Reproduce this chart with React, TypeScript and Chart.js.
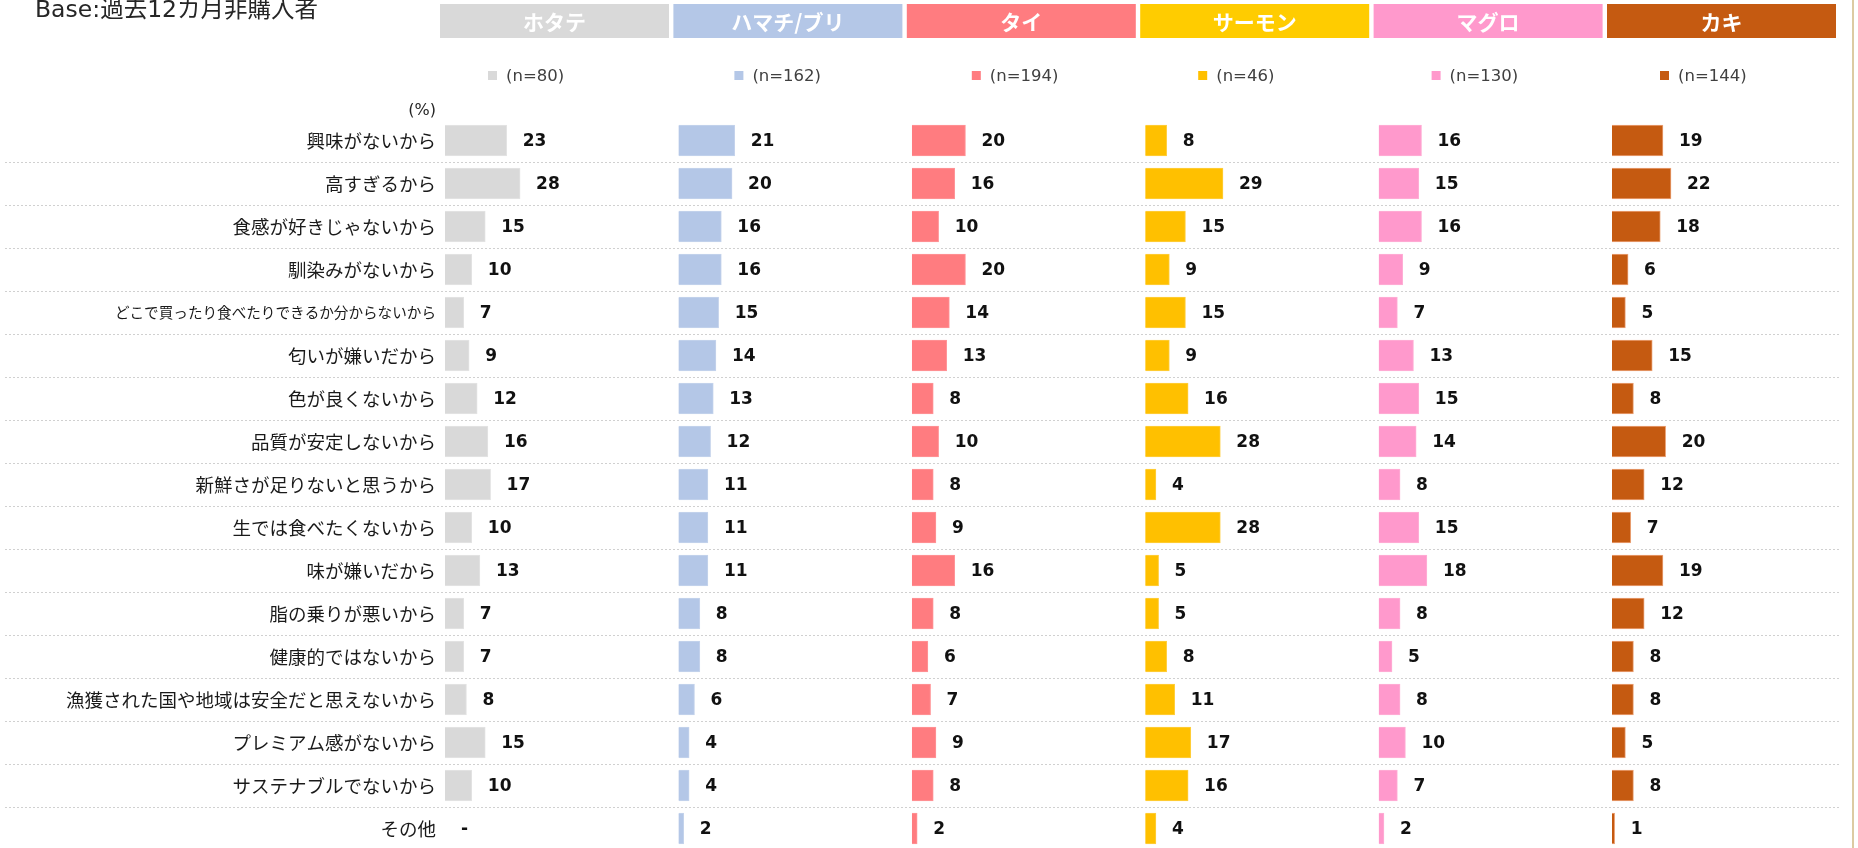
import React, { useEffect, useRef } from 'react';
import { Chart, registerables } from 'chart.js';

Chart.register(...registerables);

const titleText = 'Base:過去12カ月非購入者';
const unitLabel = '(%)';

const categories = [
  '興味がないから',
  '高すぎるから',
  '食感が好きじゃないから',
  '馴染みがないから',
  'どこで買ったり食べたりできるか分からないから',
  '匂いが嫌いだから',
  '色が良くないから',
  '品質が安定しないから',
  '新鮮さが足りないと思うから',
  '生では食べたくないから',
  '味が嫌いだから',
  '脂の乗りが悪いから',
  '健康的ではないから',
  '漁獲された国や地域は安全だと思えないから',
  'プレミアム感がないから',
  'サステナブルでないから',
  'その他',
];

const seriesNames = ['ホタテ', 'ハマチ/ブリ', 'タイ', 'サーモン', 'マグロ', 'カキ'];
const sampleSizes = ['(n=80)', '(n=162)', '(n=194)', '(n=46)', '(n=130)', '(n=144)'];

const hotate = [23, 28, 15, 10, 7, 9, 12, 16, 17, 10, 13, 7, 7, 8, 15, 10, null];
const hamachi = [21, 20, 16, 16, 15, 14, 13, 12, 11, 11, 11, 8, 8, 6, 4, 4, 2];
const tai = [20, 16, 10, 20, 14, 13, 8, 10, 8, 9, 16, 8, 6, 7, 9, 8, 2];
const salmon = [8, 29, 15, 9, 15, 9, 16, 28, 4, 28, 5, 5, 8, 11, 17, 16, 4];
const maguro = [16, 15, 16, 9, 7, 13, 15, 14, 8, 15, 18, 8, 5, 8, 10, 7, 2];
const kaki = [19, 22, 18, 6, 5, 15, 8, 20, 12, 7, 19, 12, 8, 8, 5, 8, 1];

const seriesValues = [hotate, hamachi, tai, salmon, maguro, kaki];

const barColors = ['#D9D9D9', '#B4C7E7', '#FF7C80', '#FFC000', '#FF99CC', '#C55A11'];
const barBorders = ['#E4E4E4', '#C6D4EC', '#FF9699', '#FFCF40', '#FFB0D6', '#EBA57A'];
const headerColors = ['#D9D9D9', '#B4C7E7', '#FF7C80', '#FFCC00', '#FF99CC', '#C55A11'];

const axisMax = 87;

const JP = '"Noto Sans CJK JP", "Noto Sans", sans-serif';
const LAT = '"DejaVu Sans", "Noto Sans CJK JP", sans-serif';

// legend marker left offset from each panel's zero line
const legendOffsets = [43, 56, 60, 53, 53, 48];

const decorPlugin = {
  id: 'decor',
  beforeDatasetsDraw(chart: any) {
    const ctx = chart.ctx;
    const y = chart.scales.y;
    ctx.save();
    ctx.strokeStyle = '#D0D0D0';
    ctx.lineWidth = 1;
    ctx.setLineDash([2, 2]);
    for (let i = 0; i < categories.length - 1; i++) {
      const py = Math.round((y.getPixelForValue(i) + y.getPixelForValue(i + 1)) / 2) + 0.5;
      ctx.beginPath();
      ctx.moveTo(5, py);
      ctx.lineTo(chart.chartArea.right - 6, py);
      ctx.stroke();
    }
    ctx.restore();
  },
  afterDatasetsDraw(chart: any) {
    const ctx = chart.ctx;
    const yScale = chart.scales.y;
    ctx.save();
    // value labels
    ctx.font = `bold 17px ${LAT}`;
    ctx.fillStyle = '#111111';
    ctx.textAlign = 'left';
    ctx.textBaseline = 'middle';
    seriesValues.forEach((vals, s) => {
      const xs = chart.scales['x' + s];
      vals.forEach((v, i) => {
        const px = xs.getPixelForValue(v == null ? 0 : v) + 16;
        const py = yScale.getPixelForValue(i) + 1;
        ctx.fillText(v == null ? '-' : String(v), px, py);
      });
    });

    // headers + legends
    seriesNames.forEach((name, s) => {
      const xs = chart.scales['x' + s];
      const left = xs.left - 5;
      const w = xs.width - 4.4;
      ctx.fillStyle = headerColors[s];
      ctx.fillRect(left, 4, w, 34);
      ctx.fillStyle = '#FFFFFF';
      ctx.font = `bold 21px ${JP}`;
      ctx.textAlign = 'center';
      ctx.textBaseline = 'middle';
      ctx.fillText(name, left + w / 2, 22);

      ctx.font = `16.5px ${LAT}`;
      const sx = xs.left + legendOffsets[s];
      ctx.fillStyle = barColors[s];
      ctx.fillRect(sx, 71, 9, 9);
      ctx.fillStyle = '#404040';
      ctx.textAlign = 'left';
      ctx.fillText(sampleSizes[s], sx + 18, 77);
    });

    // title
    ctx.fillStyle = '#262626';
    ctx.font = `23.5px ${LAT}`;
    ctx.textAlign = 'left';
    ctx.textBaseline = 'alphabetic';
    ctx.fillText(titleText, 35, 17);

    // unit
    ctx.font = `16px ${LAT}`;
    ctx.fillStyle = '#262626';
    ctx.textAlign = 'right';
    ctx.textBaseline = 'middle';
    ctx.fillText(unitLabel, 436, 111);

    // right frame line
    ctx.strokeStyle = '#DCCBA2';
    ctx.lineWidth = 2;
    ctx.beginPath();
    ctx.moveTo(1853, 0);
    ctx.lineTo(1853, chart.height);
    ctx.stroke();
    ctx.restore();
  },
};

export default function App() {
  const ref = useRef<HTMLCanvasElement | null>(null);

  useEffect(() => {
    if (!ref.current) return;
    const xScales: any = {};
    seriesNames.forEach((_, s) => {
      xScales['x' + s] = {
        type: 'linear',
        position: 'bottom',
        stack: 'fish',
        stackWeight: 1,
        min: 0,
        max: axisMax,
        display: false,
      };
    });
    const chart = new Chart(ref.current, {
      type: 'bar',
      data: {
        labels: categories,
        datasets: seriesValues.map((data, s) => ({
          label: seriesNames[s],
          data: data as any,
          xAxisID: 'x' + s,
          yAxisID: 'y',
          backgroundColor: barColors[s],
          borderColor: barBorders[s],
          borderWidth: 1,
          barThickness: 31,
          grouped: false,
        })),
      },
      options: {
        indexAxis: 'y',
        responsive: false,
        animation: false,
        devicePixelRatio: 1,
        layout: { padding: { left: 0, top: 119, right: 12.6, bottom: 30 } },
        plugins: {
          legend: { display: false },
          tooltip: { enabled: false },
          title: { display: false },
        },
        scales: {
          y: {
            type: 'category',
            offset: true,
            grid: { display: false, drawTicks: false },
            border: { display: false },
            ticks: {
              padding: 9,
              color: '#1A1A1A',
              autoSkip: false,
              font: (c: any) => ({ family: JP, size: c.index === 4 ? 14.6 : 18.5 }),
            },
            afterFit: (scale: any) => {
              scale.width = 445;
            },
          },
          ...xScales,
        },
      } as any,
      plugins: [decorPlugin],
    });
    return () => chart.destroy();
  }, []);

  return (
    <div
      style={{
        position: 'fixed',
        left: 0,
        top: 0,
        width: 1858,
        height: 848,
        overflow: 'hidden',
        background: '#FFFFFF',
      }}
    >
      <canvas ref={ref} width={1858} height={880} style={{ display: 'block', width: 1858, height: 880 }} />
    </div>
  );
}
